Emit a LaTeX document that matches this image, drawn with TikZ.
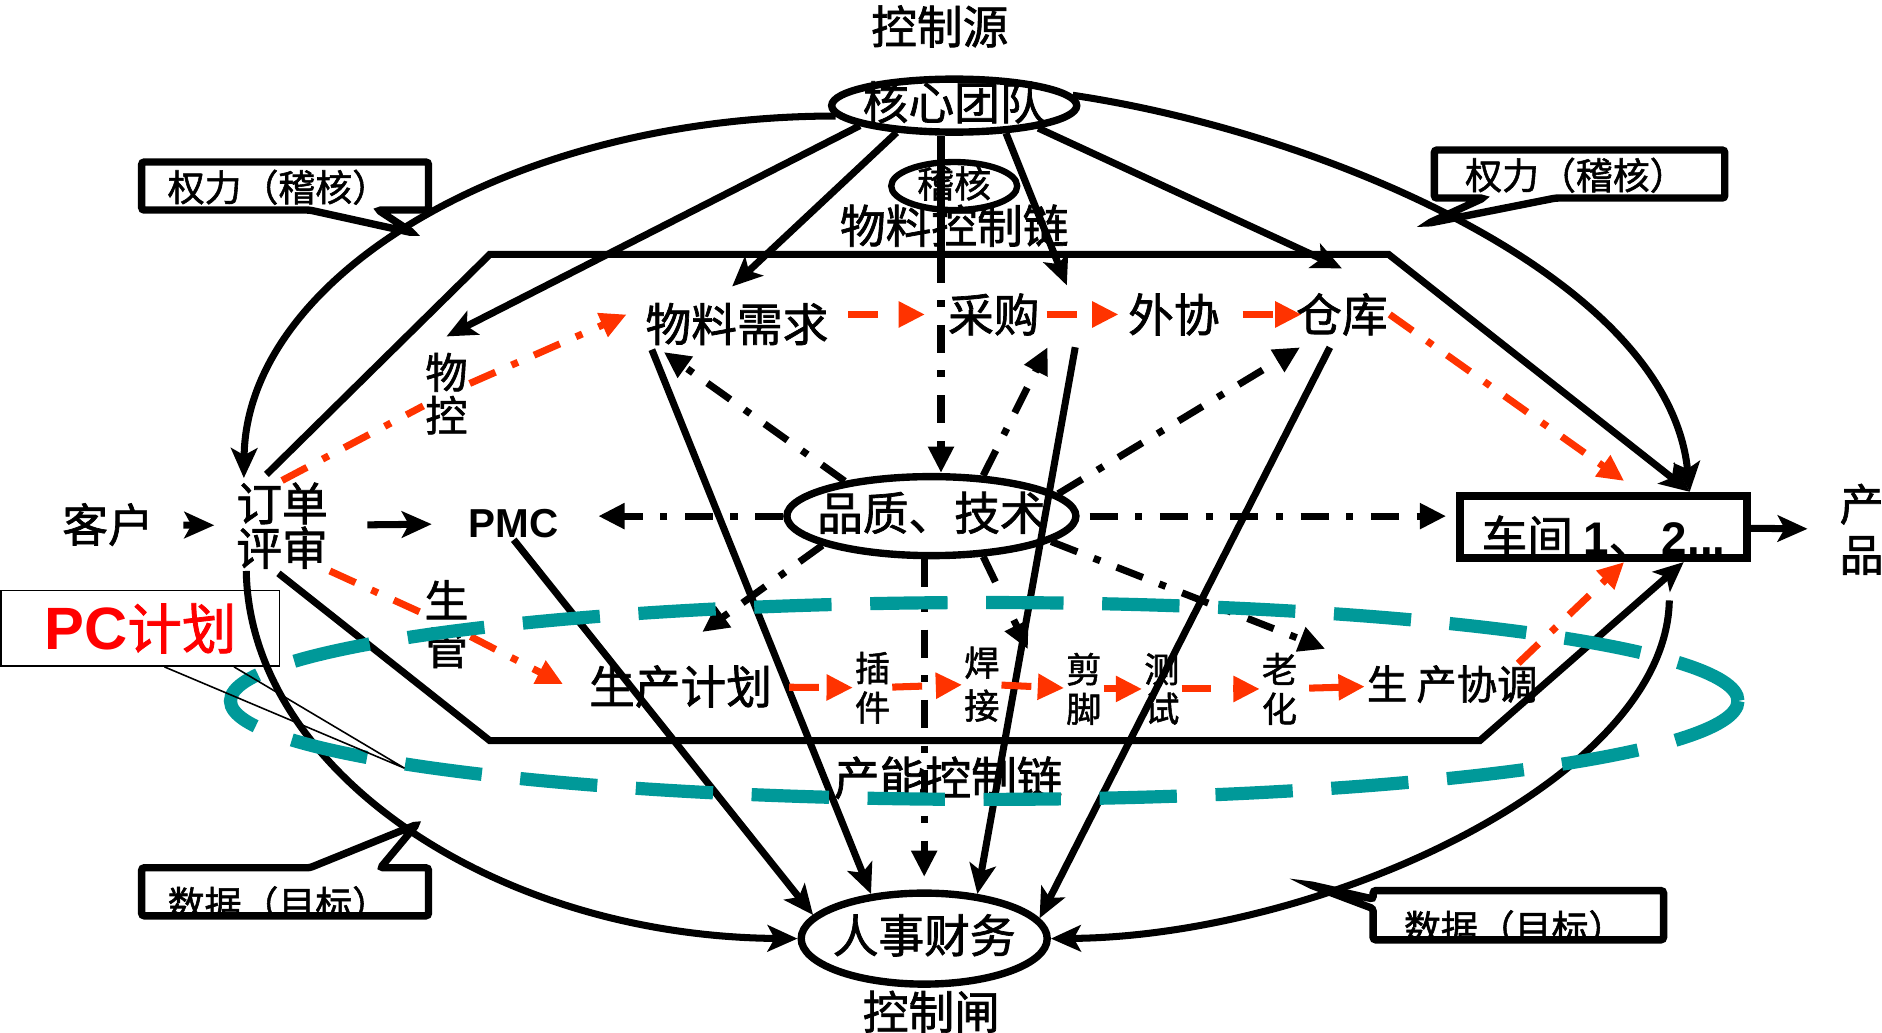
\documentclass[tikz,border=0pt]{standalone}
\usepackage{fontspec}
\setmainfont{Noto Sans CJK SC}[FakeBold=1.5]
\newfontfamily\latin{Liberation Sans}
\usepackage{tikz}
\usetikzlibrary{shapes.geometric, arrows.meta, positioning, calc}
\definecolor{redline}{RGB}{255,51,0}
\definecolor{tealline}{RGB}{0,153,153}
\tikzstyle{lbl} = [inner sep=1pt, font=\fontsize{26}{30}\selectfont]
\tikzstyle{col} = [inner sep=1pt, align=center]
\tikzstyle{oval} = [ellipse, draw, line width=4.2pt, inner sep=0pt, text height=18pt, text depth=2pt, font=\fontsize{26}{30}\selectfont]
\tikzstyle{tag} = [inner sep=0pt, font=\fontsize{21}{23}\selectfont]
\tikzstyle{wire} = [line width=4pt]
\tikzstyle{arrow} = [line width=4pt, -{Stealth[length=17pt,width=15pt,inset=4pt]}]
\tikzstyle{probe} = [line width=4pt, dash pattern=on 16pt off 10pt on 4pt off 10pt, -{Triangle[length=15pt,width=14pt]}]
\tikzstyle{flow} = [line width=4pt, redline, dash pattern=on 17pt off 12pt, -{Triangle[length=15pt,width=14pt]}]
\tikzstyle{flowdot} = [line width=4pt, redline, dash pattern=on 16pt off 10pt on 4pt off 10pt, -{Triangle[length=15pt,width=14pt]}]
\tikzstyle{callout} = [line width=4.2pt, rounded corners=1.5pt]
\tikzstyle{pcring} = [line width=7.5pt, tealline, dash pattern=on 44pt off 22pt]

\begin{document}
\begin{tikzpicture}[x=0.024cm, y=-0.024cm]
    \useasboundingbox (0,0) rectangle (1568,860);

    % control source, audit, gate
    \node[lbl] (src) at (783,22) {控制源};
    \node[oval, minimum width=4.9cm, minimum height=1.06cm] (core) at (795,88) {\makebox[0pt]{核心团队}};
    \node[oval, minimum width=2.52cm, minimum height=0.96cm, line width=3.6pt, text height=15pt, font=\fontsize{21}{24}\selectfont] (audit) at (795,155) {\makebox[0pt]{稽核}};
    \node[lbl] (mchain) at (795,188) {物料控制链};
    \node[oval, minimum width=5.78cm, minimum height=1.58cm] (qt) at (776,430) {\makebox[0pt]{品质、技术}};
    \node[oval, minimum width=4.92cm, minimum height=1.82cm] (hr) at (770,782) {\makebox[0pt]{人事财务}};
    \node[lbl] (gate) at (776,843) {控制闸};
    \node[lbl] (pchain) at (790,648) {产能控制链};

    % material row
    \node[col, font=\fontsize{24}{24.5}\selectfont] (wk) at (372,328) {物\\控};
    \node[lbl] (demand) at (614,270) {物料需求};
    \node[lbl] (buy) at (828,262) {采购};
    \node[lbl] (outs) at (978,262) {外协};
    \node[lbl] (store) at (1118,262) {仓库};

    % order row
    \node[lbl] (cust) at (90,437) {客户};
    \node[col, font=\fontsize{26}{25.3}\selectfont] (order) at (235,438) {订单\\评审};
    \node[lbl, font=\latin\bfseries\fontsize{23}{26}\selectfont] (pmc) at (428,436) {PMC};
    \node[draw, line width=4.4pt, minimum width=5.74cm, minimum height=1.25cm, inner sep=0pt, text height=31pt, text depth=0pt, font=\fontsize{26}{30}\selectfont] (shop) at (1336,439) {车间 {\latin\bfseries 1}、\,{\latin\bfseries 2...}};
    \node[col, font=\fontsize{25}{28.7}\selectfont] (prod) at (1551,441) {产\\品};

    % production row
    \node[col, font=\fontsize{25}{27}\selectfont] (mgr) at (372,520) {生\\管};
    \node[lbl] (plan) at (567,572) {生产计划};
    \node[col, font=\fontsize{20}{22.5}\selectfont] (ins) at (727,573) {插\\件};
    \node[col, font=\fontsize{20}{24.5}\selectfont] (weld) at (818,570) {焊\\接};
    \node[col, font=\fontsize{20}{22.5}\selectfont] (trim) at (903,574) {剪\\脚};
    \node[col, font=\fontsize{20}{22.5}\selectfont] (test) at (968,574) {测\\试};
    \node[col, font=\fontsize{20}{22.5}\selectfont] (age) at (1066,574) {老\\化};
    \node[lbl, font=\fontsize{23}{26}\selectfont] (coord) at (1210,570) {生 产协调};

    % frame of the two chains
    \coordinate (tl) at (408,212);
    \coordinate (tr) at (1157,212);
    \coordinate (bl) at (408,617);
    \coordinate (br) at (1233,617);
    \coordinate (vx) at (784,212);
    \coordinate (shopin) at ($(shop.north east)+(-51,0)$);
    \coordinate (shopup) at ($(shop.south east)+(-56,0)$);
    \draw[arrow] ($(order.north)+(-13,-5)$) -- (tl) -- (tr) -- (shopin);
    \draw[arrow] ($(order.south)+(-3,2)$) -- (bl) -- (br) -- (shopup);

    % main line
    \draw[arrow, shorten <=0.55cm, shorten >=0.4cm] (cust) -- (order);
    \draw[arrow, shorten <=0.75cm, shorten >=0.7cm] (order) -- (pmc);
    \draw[arrow, shorten >=0.6cm] (shop) -- (prod);

    % outer loop
    \draw[arrow] (core.185) .. controls (423,97) and (205,232) .. ($(order.north west)+(8,-2)$);
    \draw[arrow] (core.5) .. controls (1100,110) and (1390,230) .. (shopin);
    \draw[arrow] ($(order.south west)+(10,0)$) .. controls (208,641) and (411,780) .. (hr.west);
    \draw[arrow] ($(shop.south east)+(-68,32)$) .. controls (1388,650) and (1100,780) .. (hr.east);

    % core team
    \draw[arrow] (core.192) -- ($(wk.north)+(0,-12)$);
    \draw[arrow] (core.205) -- ($(demand.north)+(-4,-12)$);
    \draw[arrow] (core.-28) -- ($(buy.north east)+(21,-5)$);
    \draw[arrow] (core.-15) -- ($(store.north)+(0,-19)$);
    \draw[wire] (core.south -| vx) -- (vx);
    \draw[probe] (vx) -- (qt.north -| vx);

    % quality and technology
    \draw[probe, shorten >=0.75cm] (qt.west) -- (qt.west -| pmc.east);
    \draw[probe, shorten <=0.2cm, shorten >=0.2cm] (qt.east) -- (qt.east -| shop.west);
    \draw[probe] (qt.158) -- ($(demand.south west)+(17,4)$);
    \draw[probe] (qt.38) -- ($(buy.south east)+(5,8)$);
    \draw[probe] (qt.10) -- ($(store.south west)+(5,8)$);
    \draw[probe] (qt.195) -- ($(plan.north)+(18,-26)$);
    \draw[probe] (qt.-38) -- ($(weld.north east)+(22,4)$);
    \draw[probe] (qt.-12) -- ($(coord.north west)+(-33,-12)$);
    \draw[probe, shorten >=0.25cm] (qt.south -| hr.north) -- (hr.north);

    % into the gate
    \draw[arrow] (pmc.south) -- (hr.168);
    \draw[arrow] ($(demand.south west)+(7,2)$) -- (hr.140);
    \draw[arrow] ($(buy.south east)+(28,8)$) -- (hr.40);
    \draw[arrow] ($(store.south)+(-10,8)$) -- (hr.10);

    % material flow
    \draw[flowdot, -] (order.north) -- (wk);
    \draw[flowdot] (wk) -- ($(demand.west)+(-14,-8)$);
    \draw[flow, shorten <=0.36cm, shorten >=0.42cm] (demand.east |- buy.west) -- (buy.west);
    \draw[flow, shorten <=0.1cm, shorten >=0.15cm] (buy) -- (outs);
    \draw[flow, shorten <=0.42cm, shorten >=-0.15cm] (outs) -- (store);
    \draw[flowdot] (store.east) -- ($(shop.north west)+(140,-9)$);

    % production flow
    \draw[flowdot, -] (order.south east) -- (mgr);
    \draw[flowdot] (mgr) -- ($(plan.west)+(-20,-2)$);
    \draw[flow, shorten <=0.3cm] (plan) -- (ins);
    \draw[flow] (ins) -- (weld);
    \draw[flow] (weld) -- (trim);
    \draw[flow] (trim) -- (test);
    \draw[flow] (test) -- (age);
    \draw[flow, shorten <=0.2cm] (age) -- (coord);
    \draw[flowdot] ($(coord.north east)+(-18,0)$) -- ($(shop.south west)+(140,0)$);

    % PC plan ring
    \draw[pcring] (820,584) ellipse [x radius=628, y radius=82];
    \node[draw, line width=0.9pt, minimum width=5.57cm, minimum height=1.51cm, inner sep=0pt, text=red] (pc) at (117,523.5) {{\latin\bfseries\fontsize{34}{36}\selectfont PC}{\fontsize{31}{34}\selectfont 计划}};
    \coordinate (pcpt) at (337,640);
    \draw[line width=0.9pt] ($(pc.south)+(20,0)$) -- (pcpt) -- ($(pc.south)+(78,0)$);

    % callouts
    \node[tag] (powl) at (232,156) {权力（稽核）};
    \draw[callout] (118,135) -- (357,135) -- (357,175) -- (315,175) -- (344,194) -- (258,175) -- (118,175) -- cycle;
    \node[tag] (powr) at (1313,146) {权力（稽核）};
    \draw[callout] (1195,125) -- (1437,125) -- (1437,165) -- (1296,165) -- (1190,186) -- (1236,165) -- (1195,165) -- cycle;
    \begin{scope}
        \clip (118,723) rectangle (357,761);
        \node[tag] (datl) at (232,753) {数据（目标）};
    \end{scope}
    \draw[callout] (118,723) -- (258,723) -- (347,687) -- (317,723) -- (357,723) -- (357,763) -- (118,763) -- cycle;
    \begin{scope}
        \clip (1144,742) rectangle (1386,781);
        \node[tag] (datr) at (1262,773) {数据（目标）};
    \end{scope}
    \draw[callout] (1144,742) -- (1386,742) -- (1386,783) -- (1144,783) -- (1144,757) -- (1091,737) -- (1144,749) -- cycle;

\end{tikzpicture}
\end{document}
